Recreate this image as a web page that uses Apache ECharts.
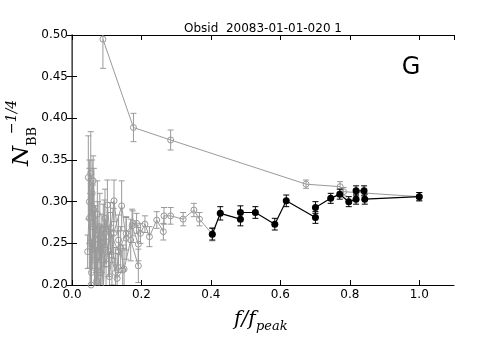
<!DOCTYPE html>
<html>
<head>
<meta charset="utf-8">
<script src="https://cdn.jsdelivr.net/npm/echarts@6/dist/echarts.min.js"></script>
<style>
  html, body { margin: 0; padding: 0; background: #fff; }
  #chart { width: 478px; height: 358px; }
</style>
</head>
<body>
<div id="chart"></div>
<script>
// each point: [f/f_peak, N_BB^-1/4, error]
const grayTop = [
  [0.089, 0.495, 0.035], [0.177, 0.389, 0.017], [0.284, 0.374, 0.012],
  [0.674, 0.321, 0.005], [0.772, 0.318, 0.006], [0.782, 0.312, 0.005], [1.0, 0.306, 0.005]
]
const grayChain = [
  [0.081, 0.242, 0.03], [0.090, 0.267, 0.03], [0.111, 0.262, 0.025], [0.134, 0.240, 0.025],
  [0.156, 0.262, 0.02], [0.175, 0.274, 0.015], [0.186, 0.274, 0.012], [0.197, 0.262, 0.012],
  [0.210, 0.273, 0.01], [0.223, 0.258, 0.012], [0.244, 0.278, 0.01], [0.263, 0.264, 0.01],
  [0.265, 0.283, 0.01], [0.284, 0.283, 0.01], [0.320, 0.279, 0.008], [0.351, 0.290, 0.008],
  [0.367, 0.279, 0.008], [0.404, 0.261, 0.008]
]
const grayA = [
  [0.045, 0.240, 0.02], [0.050, 0.300, 0.05], [0.056, 0.215, 0.04], [0.063, 0.290, 0.05],
  [0.071, 0.205, 0.04], [0.080, 0.270, 0.04], [0.090, 0.195, 0.04], [0.102, 0.296, 0.03],
  [0.115, 0.230, 0.03], [0.130, 0.208, 0.03], [0.146, 0.218, 0.03]
]
const grayB = [
  [0.047, 0.329, 0.05], [0.052, 0.250, 0.06], [0.058, 0.310, 0.04], [0.065, 0.230, 0.05],
  [0.073, 0.285, 0.04], [0.082, 0.215, 0.04], [0.093, 0.262, 0.04], [0.105, 0.240, 0.03],
  [0.121, 0.301, 0.025], [0.134, 0.254, 0.03], [0.150, 0.219, 0.025], [0.169, 0.254, 0.025],
  [0.191, 0.223, 0.02]
]
const grayC = [
  [0.054, 0.334, 0.05], [0.060, 0.270, 0.05], [0.067, 0.190, 0.04], [0.075, 0.260, 0.04],
  [0.084, 0.230, 0.04], [0.095, 0.280, 0.035], [0.108, 0.210, 0.03], [0.120, 0.262, 0.03],
  [0.143, 0.295, 0.03], [0.156, 0.256, 0.025], [0.173, 0.271, 0.02], [0.191, 0.249, 0.02]
]
const grayD = [
  [0.050, 0.280, 0.06], [0.055, 0.200, 0.05], [0.061, 0.325, 0.03], [0.068, 0.255, 0.04],
  [0.077, 0.180, 0.04], [0.086, 0.250, 0.035], [0.098, 0.225, 0.03], [0.111, 0.269, 0.03],
  [0.125, 0.215, 0.03], [0.140, 0.245, 0.025]
]
const blackSeries = [
  [0.404, 0.261, 0.007], [0.427, 0.286, 0.008], [0.485, 0.279, 0.008], [0.485, 0.287, 0.008],
  [0.528, 0.287, 0.007], [0.584, 0.273, 0.007], [0.617, 0.301, 0.007], [0.701, 0.281, 0.007],
  [0.701, 0.293, 0.007], [0.745, 0.304, 0.006], [0.771, 0.309, 0.006], [0.797, 0.300, 0.006],
  [0.818, 0.303, 0.006], [0.818, 0.313, 0.006], [0.841, 0.313, 0.006], [0.843, 0.303, 0.006],
  [1.0, 0.306, 0.005]
]
const xTicks = [0, 0.2, 0.4, 0.6, 0.8, 1.0]
const yTicks = [0.20, 0.25, 0.30, 0.35, 0.40, 0.45, 0.50]

const GRAY = '#9a9a9a'
const chart = echarts.init(document.getElementById('chart'))

const errRender = (color, cap) => (params, api) => {
  const cs = params.coordSys
  const x = api.value(0), y = api.value(1), e = api.value(2)
  const top = api.coord([x, y + e])
  const bot = api.coord([x, y - e])
  const yMin = cs.y, yMax = cs.y + cs.height
  const y1 = Math.max(top[1], yMin), y2 = Math.min(bot[1], yMax)
  if (y1 >= y2) return null
  const st = { stroke: color, lineWidth: 1 }
  const kids = [{ type: 'line', shape: { x1: top[0], y1: y1, x2: top[0], y2: y2 }, style: st }]
  if (top[1] >= yMin) kids.push({ type: 'line', shape: { x1: top[0] - cap, y1: top[1], x2: top[0] + cap, y2: top[1] }, style: st })
  if (bot[1] <= yMax) kids.push({ type: 'line', shape: { x1: bot[0] - cap, y1: bot[1], x2: bot[0] + cap, y2: bot[1] }, style: st })
  return { type: 'group', children: kids }
}

const makeSeries = (data, color, filled, z) => [
  {
    type: 'custom',
    renderItem: errRender(color, 3),
    data: data,
    clip: true,
    z: z,
    silent: true
  },
  {
    type: 'line',
    data: data.map(d => [d[0], d[1]]),
    symbol: 'circle',
    symbolSize: filled ? 7 : 6,
    showSymbol: true,
    clip: true,
    z: z + 1,
    lineStyle: { color: color, width: filled ? 1.2 : 1 },
    itemStyle: filled
      ? { color: color, borderColor: color, borderWidth: 0 }
      : { color: 'rgba(255,255,255,0)', borderColor: color, borderWidth: 1 },
    silent: true,
    animation: false
  }
]

const series = [
  ...makeSeries(grayA, GRAY, false, 2),
  ...makeSeries(grayB, GRAY, false, 2),
  ...makeSeries(grayC, GRAY, false, 2),
  ...makeSeries(grayD, GRAY, false, 2),
  ...makeSeries(grayChain, GRAY, false, 2),
  ...makeSeries(grayTop, GRAY, false, 2),
  ...makeSeries(blackSeries, '#000', true, 5)
]

const tickFont = { fontFamily: 'DejaVu Sans', fontSize: 12, color: '#000' }
const spine = { show: true, lineStyle: { color: '#000', width: 1 } }

chart.setOption({
  animation: false,
  backgroundColor: '#fff',
  grid: { left: 72, right: 24, top: 35, bottom: 73 },
  xAxis: [
    {
      type: 'value', min: 0, max: 1.1, interval: 0.2,
      axisLine: spine,
      axisTick: { show: true, inside: true, length: 5, lineStyle: { color: '#000' } },
      axisLabel: { ...tickFont, margin: 4, showMaxLabel: false,
        formatter: v => xTicks.some(t => Math.abs(t - v) < 1e-6) ? v.toFixed(1) : '' },
      splitLine: { show: false }
    },
    {
      type: 'value', position: 'top', min: 0, max: 1.1, interval: 0.2,
      axisLine: spine,
      axisTick: { show: true, inside: true, length: 5, lineStyle: { color: '#000' } },
      axisLabel: { show: false },
      splitLine: { show: false }
    }
  ],
  yAxis: [
    {
      type: 'value', min: 0.2, max: 0.5, interval: 0.05,
      axisLine: spine,
      axisTick: { show: true, inside: true, length: 5, lineStyle: { color: '#000' } },
      axisLabel: { ...tickFont, margin: 4,
        formatter: v => yTicks.some(t => Math.abs(t - v) < 1e-6) ? v.toFixed(2) : '' },
      splitLine: { show: false }
    },
    {
      type: 'value', position: 'right', min: 0.2, max: 0.5, interval: 0.05,
      axisLine: { show: true, lineStyle: { color: '#666', width: 1.5 } },
      axisTick: { show: true, inside: true, length: 5, lineStyle: { color: '#000' } },
      axisLabel: { show: false },
      splitLine: { show: false }
    }
  ],
  graphic: [
    {
      type: 'text', x: 263, y: 29,
      style: { text: 'Obsid  20083-01-01-020 1', font: '12px "DejaVu Sans"', fill: '#000', align: 'center', verticalAlign: 'middle' }
    },
    {
      type: 'text', x: 411, y: 68,
      style: { text: 'G', font: '24px "DejaVu Sans"', fill: '#000', align: 'center', verticalAlign: 'middle' }
    },
    {
      type: 'text', x: 234, y: 320,
      style: { text: 'f/f', font: 'italic 20px "DejaVu Serif"', fill: '#000', align: 'left', verticalAlign: 'middle' }
    },
    {
      type: 'text', x: 256, y: 327,
      style: { text: 'peak', font: 'italic 13px "DejaVu Serif"', fill: '#000', align: 'left', verticalAlign: 'middle' }
    },
    {
      type: 'group', x: 24, y: 128, rotation: Math.PI / 2,
      children: [
        { type: 'text', x: -38, y: 10,
          style: { text: 'N', font: 'italic 23px "DejaVu Serif"', fill: '#000', align: 'left', verticalAlign: 'bottom' } },
        { type: 'text', x: -18, y: 15,
          style: { text: 'BB', font: '13px "DejaVu Serif"', fill: '#000', align: 'left', verticalAlign: 'bottom' } },
        { type: 'text', x: -6, y: -5,
          style: { text: '\u22121/4', font: 'italic 14px "DejaVu Serif"', fill: '#000', align: 'left', verticalAlign: 'bottom' } }
      ]
    }
  ],
  series: series
})
</script>
</body>
</html>
